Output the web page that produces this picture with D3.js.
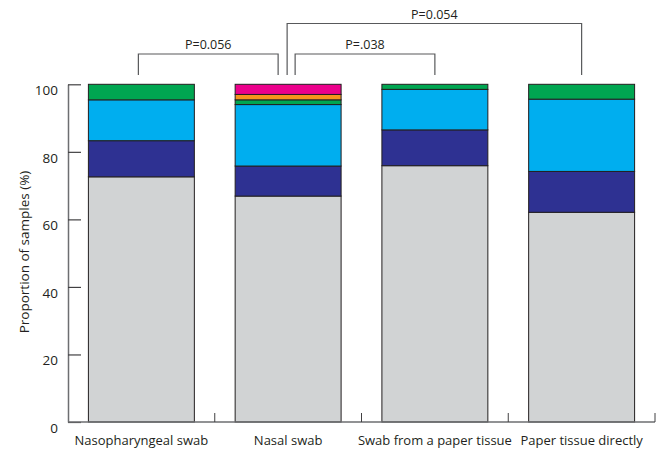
<!DOCTYPE html>
<html>
<head>
<meta charset="utf-8">
<script src="https://cdn.jsdelivr.net/npm/d3@7"></script>
<style>
  html, body { margin: 0; padding: 0; background: #fff; }
  svg { display: block; font-family: "Open Sans", "Noto Sans", sans-serif; }
</style>
</head>
<body>
<svg id="chart" width="663" height="452"></svg>
<script>
// Sample types on the x axis
const categories = ["Nasopharyngeal swab", "Nasal swab", "Swab from a paper tissue", "Paper tissue directly"];

// Stacked segment values (% of samples), bottom to top
const grey      = [72.6, 66.9, 75.9, 62.1];
const darkBlue  = [10.7,  8.9, 10.6, 12.1];
const lightBlue = [12.1, 18.2, 12.0, 21.4];
const green     = [ 4.6,  1.4,  1.5,  4.4];
const orange    = [ 0.0,  1.6,  0.0,  0.0];
const pink      = [ 0.0,  3.0,  0.0,  0.0];

const seriesKeys   = ["grey", "darkBlue", "lightBlue", "green", "orange", "pink"];
const seriesValues = [grey, darkBlue, lightBlue, green, orange, pink];
const seriesColors = ["#d1d3d4", "#2e3192", "#00aeef", "#00a651", "#f7941d", "#ec008c"];

const yTicks = [0, 20, 40, 60, 80, 100];

// Pairwise comparisons: [from category, to category, label, level]
const compFrom  = [0, 1, 1];
const compTo    = [1, 2, 3];
const compLabel = ["P=0.056", "P=.038", "P=0.054"];
const compLevel = [0, 0, 1];

const svg = d3.select("#chart");

const rows = categories.map((c, i) => {
  const r = { category: c };
  seriesKeys.forEach((k, j) => { r[k] = seriesValues[j][i]; });
  return r;
});

const stacked = d3.stack().keys(seriesKeys)(rows);

const x = d3.scaleBand()
  .domain(categories)
  .range([68, 655])
  .paddingInner(0.278)
  .paddingOuter(0.139);

const y = d3.scaleLinear().domain([0, 100]).range([422, 84.3]);

// Bars
svg.append("g")
  .selectAll("g")
  .data(stacked)
  .join("g")
    .attr("fill", (d, i) => seriesColors[i])
  .selectAll("rect")
  .data(d => d.filter(s => s[1] - s[0] > 0))
  .join("rect")
    .attr("x", d => x(d.data.category))
    .attr("width", x.bandwidth())
    .attr("y", d => y(d[1]))
    .attr("height", d => y(d[0]) - y(d[1]))
    .attr("stroke", "#231f20")
    .attr("stroke-width", 1);

// Y axis with inward ticks
const yAxis = svg.append("g")
  .attr("transform", "translate(68,0)")
  .call(d3.axisLeft(y).tickValues(yTicks).tickSizeInner(-13).tickSizeOuter(0).tickPadding(10));
yAxis.select(".domain").attr("stroke", "#6d6e71").attr("stroke-width", 1.5);
yAxis.selectAll(".tick line").attr("stroke", "#414042").attr("stroke-width", 1.2);
yAxis.selectAll(".tick text")
  .attr("font-size", 13.5)
  .attr("fill", "#231f20")
  .attr("dy", "0.78em")
  .attr("font-family", "'Open Sans', sans-serif");

// X axis: baseline with short upward ticks at category boundaries
const step = x.step();
const boundaries = categories.map(c => x(c) + x.bandwidth() + step * x.paddingInner() / 2);
const xAxis = svg.append("g");
xAxis.append("line")
  .attr("x1", 68).attr("x2", boundaries[boundaries.length - 1])
  .attr("y1", y(0)).attr("y2", y(0))
  .attr("stroke", "#6d6e71").attr("stroke-width", 1.5);
xAxis.selectAll("line.tick")
  .data(boundaries)
  .join("line")
    .attr("class", "tick")
    .attr("x1", d => d).attr("x2", d => d)
    .attr("y1", y(0)).attr("y2", y(0) - 9)
    .attr("stroke", "#414042").attr("stroke-width", 1);
xAxis.selectAll("text")
  .data(categories)
  .join("text")
    .attr("x", d => x(d) + x.bandwidth() / 2)
    .attr("y", 445)
    .attr("text-anchor", "middle")
    .attr("font-size", 13)
    .attr("fill", "#231f20")
    .text(d => d);

// Y axis title
svg.append("text")
  .attr("transform", "translate(24,252) rotate(-90)")
  .attr("text-anchor", "middle")
  .attr("dy", "0.35em")
  .attr("font-size", 13.5)
  .attr("fill", "#231f20")
  .text("Proportion of samples (%)");

// Comparison brackets
const center = i => x(categories[i]) + x.bandwidth() / 2;
const bracketBottom = 75;
const levelTop = [54, 23.5];
const fromOffset = [-3, 7, -1];
const toOffset = [-10, 0, 0];
const brackets = svg.append("g");
compLabel.forEach((lab, i) => {
  const x1 = center(compFrom[i]) + fromOffset[i];
  const x2 = center(compTo[i]) + toOffset[i];
  const top = levelTop[compLevel[i]];
  brackets.append("path")
    .attr("d", `M${x1},${bracketBottom}V${top}H${x2}V${bracketBottom}`)
    .attr("fill", "none")
    .attr("stroke", "#58595b")
    .attr("stroke-width", 1.2);
  brackets.append("text")
    .attr("x", (x1 + x2) / 2)
    .attr("y", top - 5)
    .attr("text-anchor", "middle")
    .attr("font-size", 12.5)
    .attr("fill", "#231f20")
    .text(lab);
});
</script>
</body>
</html>
